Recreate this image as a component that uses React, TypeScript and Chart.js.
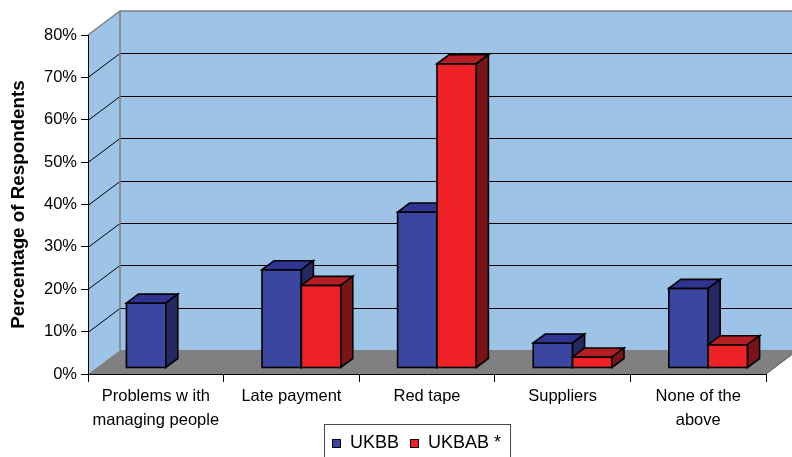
import React, { useEffect, useRef } from 'react';
import { Chart, registerables } from 'chart.js';

Chart.register(...registerables);

// ---- data ----
const categories: (string | string[])[] = [
  ['Problems w ith', 'managing people'],
  'Late payment',
  'Red tape',
  'Suppliers',
  ['None of the', 'above'],
];
const seriesNames = ['UKBB', 'UKBAB *'];
const ukbbValues: (number | null)[] = [15.3, 23.2, 36.8, 5.9, 18.8];
const ukbabValues: (number | null)[] = [null, 19.5, 71.8, 2.6, 5.5];
const yMin = 0;
const yMax = 80;
const yStep = 10;

// ---- styles ----
const FONT = '"Liberation Sans", Arial, Helvetica, sans-serif';
const FRONT = ['#3B46A0', '#EE2226'];
const TOP = ['#2F3590', '#B31F24'];
const SIDE = ['#262861', '#7A1517'];
const WALL = '#9DC3E6';
const FLOOR = '#808080';
const EDGE = '#808080';

const WALL_DX = 32;
const WALL_DY = -24;
const BAR_SHIFT_X = 10;
const BAR_SHIFT_Y = -6;
const BAR_DX = 12;
const BAR_DY = -9;

const threeD = {
  id: 'threeD',
  beforeDraw(chart: any) {
    const { ctx, chartArea: a, scales } = chart;
    const ys = scales.y;
    const L = a.left, R = a.right, T = a.top, B = a.bottom;
    ctx.save();
    // back wall
    ctx.fillStyle = WALL;
    ctx.fillRect(L + WALL_DX, T + WALL_DY, R - L + 10, B - T);
    // left side wall
    ctx.beginPath();
    ctx.moveTo(L, T);
    ctx.lineTo(L + WALL_DX, T + WALL_DY);
    ctx.lineTo(L + WALL_DX, B + WALL_DY);
    ctx.lineTo(L, B);
    ctx.closePath();
    ctx.fill();
    // floor
    ctx.fillStyle = FLOOR;
    ctx.beginPath();
    ctx.moveTo(L, B);
    ctx.lineTo(R, B);
    ctx.lineTo(R + WALL_DX, B + WALL_DY);
    ctx.lineTo(L + WALL_DX, B + WALL_DY);
    ctx.closePath();
    ctx.fill();
    // gridlines
    ctx.lineWidth = 1;
    ctx.strokeStyle = '#000';
    ys.ticks.forEach((t: any) => {
      if (t.value <= yMin || t.value >= yMax) return;
      const py = Math.round(ys.getPixelForValue(t.value));
      ctx.beginPath();
      ctx.moveTo(L + WALL_DX, py + WALL_DY + 0.5);
      ctx.lineTo(R + WALL_DX + 10, py + WALL_DY + 0.5);
      ctx.stroke();
      ctx.beginPath();
      ctx.moveTo(L, py + 0.5);
      ctx.lineTo(L + WALL_DX, py + WALL_DY + 0.5);
      ctx.stroke();
    });
    // wall edges
    ctx.strokeStyle = EDGE;
    ctx.lineWidth = 1.5;
    ctx.beginPath();
    ctx.moveTo(L, T);
    ctx.lineTo(L + WALL_DX, T + WALL_DY);
    ctx.lineTo(R + WALL_DX + 10, T + WALL_DY);
    ctx.moveTo(L + WALL_DX, T + WALL_DY);
    ctx.lineTo(L + WALL_DX, B + WALL_DY);
    ctx.stroke();
    ctx.strokeStyle = '#555';
    ctx.lineWidth = 1;
    ctx.beginPath();
    ctx.moveTo(R, B);
    ctx.lineTo(R + WALL_DX, B + WALL_DY);
    ctx.stroke();
    ctx.restore();
  },
  beforeDatasetDraw() {
    // bars are drawn below, category by category, so that faces overlap correctly
    return false;
  },
  afterDatasetsDraw(chart: any) {
    const ctx = chart.ctx;
    ctx.save();
    ctx.translate(BAR_SHIFT_X, BAR_SHIFT_Y);
    ctx.lineWidth = 1.6;
    ctx.strokeStyle = '#000';
    ctx.lineJoin = 'miter';
    const n = chart.data.labels.length;
    for (let i = 0; i < n; i++) {
      chart.data.datasets.forEach((ds: any, idx: number) => {
        const v = ds.data[i];
        if (v == null) return;
        const el = chart.getDatasetMeta(idx).data[i];
        const { x, y, base, width } = el.getProps(['x', 'y', 'base', 'width'], true);
        const l = x - width / 2;
        const r = x + width / 2;
        // front face
        ctx.fillStyle = FRONT[idx];
        ctx.fillRect(l, y, width, base - y);
        ctx.strokeRect(l, y, width, base - y);
        // top face
        ctx.beginPath();
        ctx.moveTo(l, y);
        ctx.lineTo(l + BAR_DX, y + BAR_DY);
        ctx.lineTo(r + BAR_DX, y + BAR_DY);
        ctx.lineTo(r, y);
        ctx.closePath();
        ctx.fillStyle = TOP[idx];
        ctx.fill();
        ctx.stroke();
        // side face
        ctx.beginPath();
        ctx.moveTo(r, y);
        ctx.lineTo(r + BAR_DX, y + BAR_DY);
        ctx.lineTo(r + BAR_DX, base + BAR_DY);
        ctx.lineTo(r, base);
        ctx.closePath();
        ctx.fillStyle = SIDE[idx];
        ctx.fill();
        ctx.stroke();
      });
    }
    ctx.restore();
  },
  afterDraw(chart: any) {
    const ctx = chart.ctx;
    ctx.save();
    ctx.font = `18px ${FONT}`;
    ctx.textBaseline = 'middle';
    ctx.textAlign = 'left';
    const startX = 332;
    const sq = 8;
    const sqY = 439;
    let x = startX;
    chart.data.datasets.forEach((ds: any, i: number) => {
      ctx.fillStyle = FRONT[i];
      ctx.fillRect(x, sqY, sq, sq);
      ctx.strokeStyle = '#000';
      ctx.lineWidth = 1;
      ctx.strokeRect(x + 0.5, sqY + 0.5, sq, sq);
      x += sq + 10;
      ctx.fillStyle = '#000';
      ctx.fillText(ds.label, x, sqY + 4.5);
      x += ctx.measureText(ds.label).width + 11;
    });
    const right = x - 11 + 9;
    ctx.strokeStyle = '#444';
    ctx.lineWidth = 1;
    ctx.strokeRect(startX - 8 + 0.5, 424.5, right - (startX - 8), 40);
    ctx.restore();
  },
};

export default function App() {
  const ref = useRef<HTMLCanvasElement | null>(null);
  useEffect(() => {
    if (!ref.current) return;
    const chart = new Chart(ref.current, {
      type: 'bar',
      data: {
        labels: categories,
        datasets: [
          {
            label: seriesNames[0],
            data: ukbbValues,
            backgroundColor: FRONT[0],
            borderWidth: 0,
          } as any,
          {
            label: seriesNames[1],
            data: ukbabValues,
            backgroundColor: FRONT[1],
            borderWidth: 0,
          } as any,
        ],
      },
      options: {
        responsive: false,
        animation: false,
        devicePixelRatio: 1,
        categoryPercentage: 0.581,
        barPercentage: 1,
        layout: { padding: { top: 35, right: 26, left: 0, bottom: 0 } },
        plugins: {
          legend: { display: false },
          tooltip: { enabled: false },
        },
        scales: {
          x: {
            grid: { offset: true, drawOnChartArea: false, tickLength: 8, color: '#000' },
            border: { display: true, color: '#000' },
            ticks: {
              font: { family: FONT, size: 16.5, lineHeight: 1.42 },
              color: '#000',
              padding: 3,
              maxRotation: 0,
              autoSkip: false,
            },
            afterFit(s: any) {
              s.height = 83;
            },
          },
          y: {
            min: yMin,
            max: yMax,
            grid: { drawOnChartArea: false, tickLength: 7, color: '#000' },
            border: { display: true, color: '#000' },
            ticks: {
              stepSize: yStep,
              callback: (v: any) => `${v}%`,
              font: { family: FONT, size: 16.5 },
              color: '#000',
              padding: 4,
            },
            title: {
              display: true,
              text: 'Percentage of Respondents',
              font: { family: FONT, size: 18.8, weight: 'bold' },
              color: '#000',
              padding: { top: 8, bottom: 0 },
            },
            afterFit(s: any) {
              s.width = 88;
            },
          },
        },
      } as any,
      plugins: [threeD],
    });
    return () => chart.destroy();
  }, []);
  return (
    <div style={{ position: 'absolute', left: 0, top: 0, width: 792, height: 457 }}>
      <canvas ref={ref} width={792} height={457} />
    </div>
  );
}
